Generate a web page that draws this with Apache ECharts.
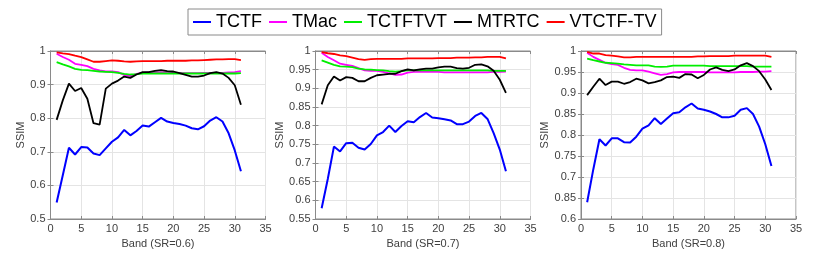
<!DOCTYPE html>
<html>
<head>
<meta charset="utf-8">
<script src="https://cdn.jsdelivr.net/npm/echarts@6/dist/echarts.min.js"></script>
<style>
html,body{margin:0;padding:0;background:#fff;}
#chart{width:830px;height:258px;}
</style>
</head>
<body>
<div id="chart"></div>
<script>
// ---- data ----
var seriesNames = ['TCTF', 'TMac', 'TCTFTVT', 'MTRTC', 'VTCTF-TV'];
var seriesColors = ['#0000ff', '#ff00ff', '#00ee00', '#000000', '#ff0000'];
var bands = [1,2,3,4,5,6,7,8,9,10,11,12,13,14,15,16,17,18,19,20,21,22,23,24,25,26,27,28,29,30,31];
var xTicks = [0,5,10,15,20,25,30,35];
var xLabels = ['Band (SR=0.6)', 'Band (SR=0.7)', 'Band (SR=0.8)'];

// Panel 1 (SR=0.6)
var p1_TCTF = [0.549,0.630,0.712,0.692,0.714,0.713,0.695,0.690,0.710,0.730,0.743,0.765,0.749,0.762,0.778,0.775,0.788,0.801,0.790,0.786,0.783,0.778,0.770,0.767,0.776,0.793,0.803,0.790,0.755,0.704,0.642];
var p1_TMac = [0.992,0.982,0.974,0.962,0.959,0.955,0.947,0.942,0.939,0.939,0.937,0.929,0.925,0.932,0.935,0.936,0.936,0.936,0.936,0.935,0.935,0.934,0.934,0.934,0.935,0.935,0.935,0.935,0.936,0.937,0.940];
var p1_TCTFTVT = [0.967,0.960,0.954,0.947,0.944,0.943,0.941,0.939,0.938,0.937,0.935,0.932,0.930,0.931,0.933,0.933,0.933,0.933,0.933,0.933,0.933,0.933,0.933,0.933,0.933,0.933,0.933,0.933,0.933,0.933,0.934];
var p1_MTRTC = [0.795,0.853,0.903,0.881,0.890,0.858,0.785,0.781,0.888,0.903,0.912,0.924,0.920,0.930,0.937,0.937,0.941,0.943,0.940,0.939,0.934,0.929,0.924,0.924,0.927,0.934,0.937,0.933,0.920,0.898,0.840];
var p1_VTCTFTV = [0.996,0.993,0.991,0.986,0.982,0.975,0.968,0.968,0.970,0.972,0.971,0.969,0.968,0.969,0.970,0.970,0.970,0.970,0.971,0.971,0.971,0.971,0.972,0.972,0.973,0.974,0.975,0.975,0.976,0.976,0.973];

// Panel 2 (SR=0.7)
var p2_TCTF = [0.579,0.657,0.744,0.731,0.753,0.754,0.741,0.736,0.751,0.774,0.783,0.800,0.783,0.799,0.812,0.809,0.823,0.834,0.822,0.820,0.817,0.814,0.804,0.804,0.811,0.826,0.834,0.818,0.780,0.736,0.678];
var p2_TMac = [0.995,0.984,0.975,0.966,0.963,0.960,0.954,0.948,0.947,0.947,0.944,0.940,0.936,0.937,0.942,0.944,0.944,0.944,0.944,0.944,0.943,0.943,0.943,0.943,0.943,0.943,0.943,0.943,0.944,0.944,0.945];
var p2_TCTFTVT = [0.975,0.969,0.963,0.959,0.958,0.957,0.953,0.951,0.950,0.949,0.948,0.946,0.945,0.946,0.948,0.948,0.948,0.948,0.948,0.948,0.948,0.948,0.948,0.948,0.948,0.948,0.948,0.948,0.947,0.947,0.947];
var p2_MTRTC = [0.857,0.908,0.932,0.921,0.930,0.928,0.919,0.919,0.928,0.935,0.937,0.939,0.939,0.946,0.951,0.948,0.951,0.953,0.953,0.956,0.958,0.958,0.954,0.953,0.955,0.963,0.964,0.959,0.947,0.923,0.888];
var p2_VTCTFTV = [0.997,0.994,0.992,0.988,0.986,0.982,0.978,0.976,0.978,0.979,0.979,0.979,0.979,0.979,0.980,0.980,0.980,0.980,0.980,0.981,0.981,0.981,0.982,0.982,0.982,0.983,0.983,0.984,0.984,0.984,0.980];

// Panel 3 (SR=0.8)
var p3_TCTF = [0.640,0.718,0.790,0.775,0.792,0.792,0.783,0.782,0.796,0.815,0.823,0.840,0.826,0.839,0.852,0.854,0.866,0.875,0.863,0.860,0.856,0.850,0.842,0.842,0.846,0.860,0.864,0.850,0.820,0.778,0.726];
var p3_TMac = [0.996,0.986,0.979,0.972,0.969,0.967,0.960,0.955,0.954,0.954,0.951,0.947,0.943,0.945,0.949,0.950,0.950,0.950,0.950,0.950,0.949,0.949,0.949,0.949,0.949,0.950,0.950,0.950,0.951,0.951,0.952];
var p3_TCTFTVT = [0.982,0.978,0.975,0.972,0.971,0.970,0.968,0.967,0.966,0.966,0.966,0.963,0.962,0.963,0.965,0.965,0.965,0.965,0.965,0.965,0.964,0.964,0.964,0.964,0.964,0.964,0.964,0.963,0.963,0.963,0.963];
var p3_MTRTC = [0.895,0.915,0.934,0.919,0.927,0.927,0.922,0.926,0.934,0.930,0.923,0.926,0.930,0.938,0.939,0.936,0.945,0.944,0.935,0.943,0.956,0.961,0.955,0.952,0.956,0.966,0.971,0.964,0.952,0.932,0.907];
var p3_VTCTFTV = [0.998,0.994,0.994,0.990,0.989,0.987,0.985,0.985,0.986,0.986,0.986,0.986,0.986,0.986,0.986,0.986,0.986,0.986,0.987,0.987,0.988,0.988,0.988,0.988,0.989,0.989,0.989,0.989,0.989,0.989,0.986];

// y tick labels per panel
var yTicks1 = ['0.5','0.6','0.7','0.8','0.9','1'];
var yTicks2 = ['0.55','0.6','0.65','0.7','0.75','0.8','0.85','0.9','0.95','1'];
var yTicks3 = ['0.6','0.85','0.7','0.75','0.8','0.85','0.9','0.95','1'];

var panels = [
  {vals:[p1_TCTF,p1_TMac,p1_TCTFTVT,p1_MTRTC,p1_VTCTFTV], min:0.5, max:1, step:0.1, ticks:yTicks1},
  {vals:[p2_TCTF,p2_TMac,p2_TCTFTVT,p2_MTRTC,p2_VTCTFTV], min:0.55, max:1, step:0.05, ticks:yTicks2},
  {vals:[p3_TCTF,p3_TMac,p3_TCTFTVT,p3_MTRTC,p3_VTCTFTV], min:0.6, max:1, step:0.05, ticks:yTicks3}
];

// ---- layout ----
var gridLefts = [50.5, 315.5, 581];
var gridW = 215, gridTop = 51, gridH = 168;
var axisColor = '#8a8a8a', labelColor = '#404040', splitColor = '#e4e4e4';
var font = 'Liberation Sans, Arial, sans-serif';

var grids = [], xAxes = [], yAxes = [], series = [];
panels.forEach(function(p, i){
  grids.push({left: gridLefts[i], top: gridTop, width: gridW, height: gridH, show: true, borderColor: axisColor, borderWidth: 1, backgroundColor: '#fff'});
  var ticks = p.ticks;
  var pmin = p.min, pstep = p.step;
  function yfmt(v){ var k = Math.round((v - pmin) / pstep); return ticks[k] !== undefined ? ticks[k] : ''; }
  xAxes.push({type:'value', gridIndex:i, min:0, max:35, interval:5, position:'bottom',
    name: xLabels[i], nameLocation:'middle', nameGap:15,
    nameTextStyle:{color:labelColor, fontSize:11, fontFamily:font},
    axisLine:{show:true, lineStyle:{color:axisColor}},
    axisTick:{show:true, inside:true, length:3, lineStyle:{color:axisColor}},
    axisLabel:{color:labelColor, fontSize:11, fontFamily:font, margin:4},
    splitLine:{show:true, lineStyle:{color:splitColor}}});
  xAxes.push({type:'value', gridIndex:i, min:0, max:35, interval:5, position:'top',
    axisLine:{show:true, lineStyle:{color:axisColor}},
    axisTick:{show:true, inside:true, length:3, lineStyle:{color:axisColor}},
    axisLabel:{show:false}, splitLine:{show:false}});
  yAxes.push({type:'value', gridIndex:i, min:p.min, max:p.max, interval:p.step, position:'left',
    name:'SSIM', nameLocation:'middle', nameGap:21,
    nameTextStyle:{color:labelColor, fontSize:11, fontFamily:font},
    axisLine:{show:true, lineStyle:{color:axisColor}},
    axisTick:{show:true, inside:true, length:3, lineStyle:{color:axisColor}},
    axisLabel:{color:labelColor, fontSize:11, fontFamily:font, margin:5, formatter: yfmt},
    splitLine:{show:true, lineStyle:{color:splitColor}}});
  yAxes.push({type:'value', gridIndex:i, min:p.min, max:p.max, interval:p.step, position:'right',
    axisLine:{show:true, lineStyle:{color:axisColor}},
    axisTick:{show:true, inside:true, length:3, lineStyle:{color:axisColor}},
    axisLabel:{show:false}, splitLine:{show:false}});
  p.vals.forEach(function(arr, s){
    series.push({name: seriesNames[s], type:'line', xAxisIndex: i*2, yAxisIndex: i*2,
      data: bands.map(function(b, k){ return [b, arr[k]]; }),
      showSymbol:false, symbol:'none', smooth:false, animation:false,
      lineStyle:{color: seriesColors[s], width: s === 0 ? 2 : 1.8}, itemStyle:{color: seriesColors[s]}});
  });
});

var chart = echarts.init(document.getElementById('chart'), null, {renderer:'canvas'});
chart.setOption({
  animation:false,
  backgroundColor:'#fff',
  legend:{data: seriesNames, left:188, top:9, orient:'horizontal',
    icon:'rect', itemWidth:18, itemHeight:2, itemGap:7,
    padding:[3,5], borderColor:'#8a8a8a', borderWidth:1, backgroundColor:'#fff',
    textStyle:{color:'#000', fontSize:18, fontFamily:font, lineHeight:20}},
  grid: grids, xAxis: xAxes, yAxis: yAxes, series: series
});
</script>
</body>
</html>
